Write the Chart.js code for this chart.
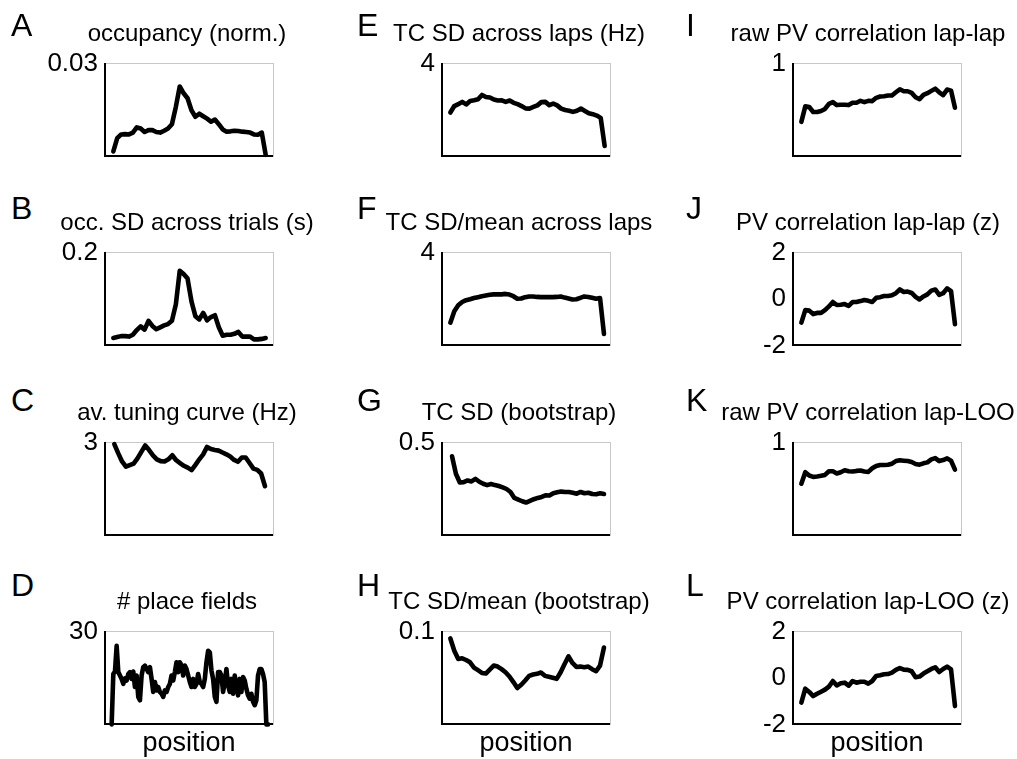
<!DOCTYPE html>
<html><head><meta charset="utf-8">
<script src="https://cdn.jsdelivr.net/npm/chart.js@4/dist/chart.umd.min.js"></script>
<style>
html,body{margin:0;padding:0;background:#fff;}
body{width:1017px;height:759px;position:relative;overflow:hidden;font-family:"Liberation Sans",Arial,Helvetica,sans-serif;color:#000;}
.t{position:absolute;white-space:nowrap;line-height:1;}
canvas{position:absolute;}
</style></head><body>
<script>
// ---- position bins (x categories) ----
const bins40 = [0,1,2,3,4,5,6,7,8,9,10,11,12,13,14,15,16,17,18,19,20,21,22,23,24,25,26,27,28,29,30,31,32,33,34,35,36,37,38,39];
const bins95 = [0,1,2,3,4,5,6,7,8,9,10,11,12,13,14,15,16,17,18,19,20,21,22,23,24,25,26,27,28,29,30,31,32,33,34,35,36,37,38,39,40,41,42,43,44,45,46,47,48,49,50,51,52,53,54,55,56,57,58,59,60,61,62,63,64,65,66,67,68,69,70,71,72,73,74,75,76,77,78,79,80,81,82,83,84,85,86,87,88,89,90,91,92,93,94];

// ---- series values ----
const occupancy = [0.0016,0.0059,0.0071,0.0072,0.0071,0.0077,0.0094,0.0090,0.0079,0.0085,0.0085,0.0079,0.0077,0.0083,0.0090,0.0104,0.0160,0.0226,0.0204,0.0188,0.0149,0.0128,0.0138,0.0130,0.0122,0.0112,0.0119,0.0104,0.0087,0.0080,0.0081,0.0083,0.0082,0.0080,0.0079,0.0077,0.0071,0.0070,0.0077,0.0005];
const occSD = [0.016,0.018,0.020,0.020,0.019,0.023,0.033,0.041,0.034,0.053,0.042,0.035,0.039,0.043,0.046,0.053,0.088,0.161,0.154,0.144,0.095,0.063,0.056,0.070,0.054,0.061,0.065,0.039,0.021,0.023,0.023,0.025,0.029,0.019,0.019,0.019,0.013,0.013,0.014,0.016];
const tuningCurve = [2.95,2.66,2.39,2.22,2.27,2.32,2.49,2.70,2.91,2.76,2.59,2.46,2.40,2.39,2.46,2.59,2.43,2.34,2.25,2.19,2.11,2.28,2.46,2.62,2.86,2.79,2.76,2.74,2.68,2.62,2.55,2.44,2.38,2.52,2.52,2.34,2.16,2.12,2.00,1.59];
const placeFields = [0,16.3,17.1,25.4,16.9,15.8,14.7,13.1,14.9,14.2,16.3,16.9,14.7,17.1,12.1,15.8,8.9,7.8,15.8,18.5,19.0,17.9,16.9,18.5,14.7,10.5,13.7,11.0,12.1,10.5,9.9,8.9,11.0,10.5,12.1,13.1,15.8,14.2,16.9,20.1,16.9,20.1,19.0,15.8,19.0,17.9,15.8,13.7,12.1,14.7,12.1,13.1,16.3,13.7,13.1,12.1,14.7,20.1,23.8,23.3,17.4,14.7,8.9,7.3,16.9,16.9,15.8,10.5,13.7,17.9,12.6,10.5,14.7,9.9,15.8,12.6,9.4,14.7,10.5,15.3,14.2,11.5,9.4,8.3,9.9,7.3,6.2,7.8,15.8,17.9,17.9,16.3,13.7,0,0];
const tcSDLaps = [1.89,2.17,2.25,2.35,2.24,2.39,2.42,2.46,2.65,2.56,2.54,2.45,2.41,2.42,2.35,2.41,2.31,2.25,2.17,2.07,2.06,2.13,2.20,2.34,2.35,2.21,2.28,2.20,2.06,2.00,1.97,1.92,1.97,2.06,1.96,1.86,1.82,1.76,1.66,0.45];
const tcCVLaps = [0.98,1.47,1.73,1.87,1.95,1.99,2.04,2.08,2.12,2.15,2.18,2.20,2.20,2.20,2.22,2.19,2.12,2.01,2.02,2.08,2.11,2.11,2.09,2.08,2.08,2.08,2.08,2.09,2.11,2.06,2.02,1.98,1.99,2.05,2.11,2.09,2.05,2.01,2.04,0.49];
const tcSDBoot = [0.426,0.332,0.285,0.287,0.296,0.291,0.305,0.289,0.278,0.271,0.277,0.271,0.266,0.259,0.250,0.234,0.202,0.193,0.184,0.177,0.186,0.195,0.202,0.207,0.216,0.215,0.227,0.232,0.236,0.234,0.234,0.230,0.225,0.234,0.227,0.230,0.223,0.222,0.227,0.223];
const tcCVBoot = [0.0926,0.0794,0.0705,0.0712,0.0694,0.0669,0.0612,0.0584,0.0555,0.0548,0.0591,0.0634,0.0623,0.0595,0.0562,0.0516,0.0456,0.0392,0.0427,0.0473,0.0523,0.0538,0.0545,0.0559,0.0523,0.0513,0.0502,0.0491,0.0562,0.0651,0.0733,0.0662,0.0619,0.0623,0.0616,0.0623,0.0595,0.0573,0.0634,0.0829];
const pvRawLapLap = [0.372,0.539,0.532,0.479,0.479,0.489,0.511,0.567,0.585,0.553,0.557,0.557,0.553,0.578,0.578,0.599,0.585,0.599,0.596,0.631,0.645,0.649,0.656,0.656,0.691,0.723,0.702,0.702,0.684,0.638,0.617,0.663,0.681,0.706,0.730,0.691,0.660,0.720,0.709,0.525];
const pvZLapLap = [-1.02,-0.48,-0.50,-0.65,-0.60,-0.60,-0.48,-0.32,-0.13,-0.26,-0.25,-0.22,-0.30,-0.13,-0.13,-0.09,-0.04,-0.08,-0.13,0.05,0.08,0.13,0.13,0.16,0.25,0.41,0.30,0.32,0.26,0.09,-0.02,0.11,0.20,0.36,0.41,0.18,0.25,0.46,0.34,-1.09];
const pvRawLapLOO = [0.557,0.681,0.645,0.631,0.635,0.642,0.652,0.691,0.691,0.667,0.681,0.702,0.691,0.688,0.695,0.699,0.688,0.684,0.723,0.748,0.759,0.759,0.762,0.773,0.801,0.809,0.805,0.801,0.791,0.770,0.762,0.777,0.787,0.819,0.833,0.801,0.812,0.830,0.805,0.709];
const pvZLapLOO = [-1.06,-0.46,-0.60,-0.78,-0.68,-0.59,-0.50,-0.37,-0.13,-0.32,-0.23,-0.20,-0.33,-0.13,-0.20,-0.16,-0.16,-0.24,-0.13,0.09,0.12,0.16,0.17,0.23,0.35,0.43,0.36,0.35,0.29,0.03,0.06,0.19,0.29,0.39,0.46,0.26,0.39,0.49,0.37,-1.21];

// ---- y tick values / labels ----
const ticksA = [0.03], ticksB = [0.2], ticksC = [3], ticksD = [30];
const ticksE = [4], ticksF = [4], ticksG = [0.5], ticksH = [0.1];
const ticksI = [1], ticksJ = [-2, 0, 2], ticksK = [1], ticksL = [-2, 0, 2];
const tickLabelsA = ['0.03'], tickLabelsB = ['0.2'], tickLabelsC = ['3'], tickLabelsD = ['30'];
const tickLabelsE = ['4'], tickLabelsF = ['4'], tickLabelsG = ['0.5'], tickLabelsH = ['0.1'];
const tickLabelsI = ['1'], tickLabelsJ = ['-2', '0', '2'], tickLabelsK = ['1'], tickLabelsL = ['-2', '0', '2'];

// ---- panel titles ----
const panelLetters = ['A','B','C','D','E','F','G','H','I','J','K','L'];
const panelTitles = ['occupancy (norm.)','occ. SD across trials (s)','av. tuning curve (Hz)','# place fields',
  'TC SD across laps (Hz)','TC SD/mean across laps','TC SD (bootstrap)','TC SD/mean (bootstrap)',
  'raw PV correlation lap-lap','PV correlation lap-lap (z)','raw PV correlation lap-LOO','PV correlation lap-LOO (z)'];
const xLabel = 'position';

// ---- layout (not data) ----
const colLeft = [105, 442, 793], rowTop = [63, 252, 442, 631];
const boxW = 168, boxH = 94;
const titleCenter = [187, 519, 868];
const letterX = [11, 357, 686];
const letterBase = [36, 219, 411, 596];

const panels = [
  {labels: bins40, values: occupancy,   yMin: 0,  yMax: 0.03, ticks: ticksA, tickLabels: tickLabelsA, xMin: -2.13, xMax: 40.87},
  {labels: bins40, values: occSD,       yMin: 0,  yMax: 0.2,  ticks: ticksB, tickLabels: tickLabelsB, xMin: -2.13, xMax: 40.87},
  {labels: bins40, values: tuningCurve, yMin: 0,  yMax: 3,    ticks: ticksC, tickLabels: tickLabelsC, xMin: -2.41, xMax: 41.07},
  {labels: bins95, values: placeFields, yMin: 0,  yMax: 30,   ticks: ticksD, tickLabels: tickLabelsD, xMin: -4,    xMax: 97},
  {labels: bins40, values: tcSDLaps,    yMin: 0,  yMax: 4,    ticks: ticksE, tickLabels: tickLabelsE, xMin: -2.11, xMax: 40.35},
  {labels: bins40, values: tcCVLaps,    yMin: 0,  yMax: 4,    ticks: ticksF, tickLabels: tickLabelsF, xMin: -2.12, xMax: 40.53},
  {labels: bins40, values: tcSDBoot,    yMin: 0,  yMax: 0.5,  ticks: ticksG, tickLabels: tickLabelsG, xMin: -2.57, xMax: 40.54},
  {labels: bins40, values: tcCVBoot,    yMin: 0,  yMax: 0.1,  ticks: ticksH, tickLabels: tickLabelsH, xMin: -2.12, xMax: 40.53},
  {labels: bins40, values: pvRawLapLap, yMin: 0,  yMax: 1,    ticks: ticksI, tickLabels: tickLabelsI, xMin: -2.12, xMax: 40.53},
  {labels: bins40, values: pvZLapLap,   yMin: -2, yMax: 2,    ticks: ticksJ, tickLabels: tickLabelsJ, xMin: -2.12, xMax: 40.53},
  {labels: bins40, values: pvRawLapLOO, yMin: 0,  yMax: 1,    ticks: ticksK, tickLabels: tickLabelsK, xMin: -2.12, xMax: 40.53},
  {labels: bins40, values: pvZLapLOO,   yMin: -2, yMax: 2,    ticks: ticksL, tickLabels: tickLabelsL, xMin: -2.12, xMax: 40.53}
];

const FONT = '"Liberation Sans", Arial, Helvetica, sans-serif';
const AXW = 90, PAD = 22;

function addText(txt, size, x, baseline, center) {
  const d = document.createElement('div');
  d.className = 't';
  d.textContent = txt;
  d.style.fontSize = size + 'px';
  d.style.top = (baseline - 0.8465 * size) + 'px';
  d.style.left = x + 'px';
  if (center) d.style.transform = 'translateX(-50%)';
  document.body.appendChild(d);
}

panels.forEach((p, k) => {
  const col = Math.floor(k / 4), row = k % 4;
  const L = colLeft[col], T = rowTop[row];
  const cv = document.createElement('canvas');
  const cw = AXW + boxW + PAD, ch = PAD + boxH + PAD;
  cv.width = cw; cv.height = ch;
  cv.style.left = (L - AXW) + 'px';
  cv.style.top = (T - PAD) + 'px';
  cv.style.width = cw + 'px'; cv.style.height = ch + 'px';
  document.body.appendChild(cv);

  const hidden = {display: false};
  new Chart(cv, {
    type: 'line',
    data: {
      labels: p.labels,
      datasets: [{
        data: p.values,
        borderColor: '#000',
        borderWidth: 4.6,
        pointRadius: 0,
        tension: 0,
        borderJoinStyle: 'round',
        borderCapStyle: 'round',
        fill: false,
        clip: false
      }]
    },
    options: {
      responsive: false,
      animation: false,
      devicePixelRatio: 1,
      events: [],
      layout: {padding: {top: PAD, right: PAD, bottom: PAD, left: 0}},
      plugins: {legend: hidden, title: hidden, tooltip: {enabled: false}},
      scales: {
        x: {
          type: 'linear', position: 'bottom', min: p.xMin, max: p.xMax,
          ticks: {display: false}, grid: {display: false, drawTicks: false},
          border: {display: true, color: '#000', width: 2},
          afterFit: s => { s.height = 0; }
        },
        x2: {
          type: 'linear', position: 'top', min: 0, max: 1,
          ticks: {display: false}, grid: {display: false, drawTicks: false},
          border: {display: true, color: '#c8c8c8', width: 1},
          afterFit: s => { s.height = 0; }
        },
        y: {
          type: 'linear', position: 'left', min: p.yMin, max: p.yMax,
          grid: {display: false, drawTicks: false},
          border: {display: true, color: '#000', width: 2},
          afterBuildTicks: s => { s.ticks = p.ticks.map(v => ({value: v})); },
          ticks: {
            padding: 7, color: '#000', autoSkip: false,
            font: {family: FONT, size: 26},
            callback: (v, i) => p.tickLabels[i]
          },
          afterFit: s => { s.width = AXW; }
        },
        y2: {
          type: 'linear', position: 'right', min: 0, max: 1,
          ticks: {display: false}, grid: {display: false, drawTicks: false},
          border: {display: true, color: '#c8c8c8', width: 1},
          afterFit: s => { s.width = 0; }
        }
      }
    }
  });

  addText(panelLetters[k], 32, letterX[col], letterBase[row], false);
  addText(panelTitles[k], 24, titleCenter[col], T - 21.5, true);
  if (row === 3) addText(xLabel, 27, L + boxW / 2, 752, true);
});
</script>
</body></html>
